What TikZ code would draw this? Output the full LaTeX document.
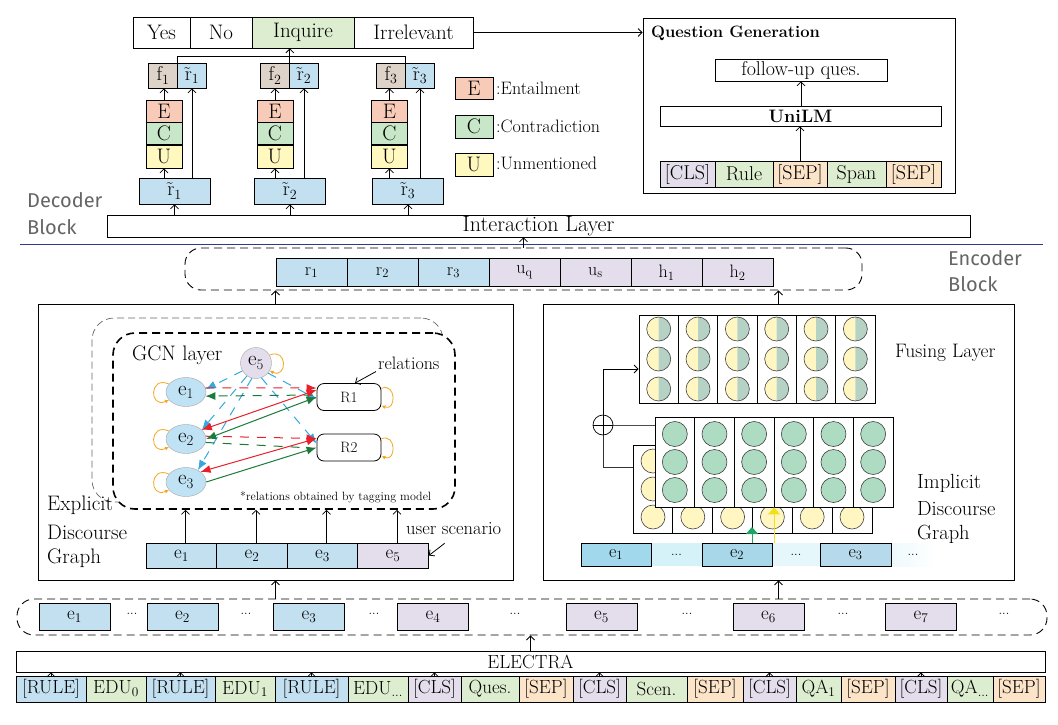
\documentclass[tikz,border=0pt]{standalone}
\usepackage{fontspec}
\setmainfont{Latin Modern Roman}
\newfontfamily\blkfont{Fira Sans}
\usetikzlibrary{arrows.meta,calc,shapes.geometric}
\newcommand{\fsz}[1]{\fontsize{#1}{#1}\selectfont}
\definecolor{cblue}{HTML}{C3E0F1}
\definecolor{clav}{HTML}{E4DEEC}
\definecolor{cgreen}{HTML}{DDEDCF}
\definecolor{corange}{HTML}{FCE4C8}
\definecolor{cE}{HTML}{F8CBB8}
\definecolor{cC}{HTML}{C8E6C8}
\definecolor{cU}{HTML}{FFF8BF}
\definecolor{cf}{HTML}{DDD3C8}
\definecolor{cyel}{HTML}{FFF6C2}
\definecolor{cgg}{HTML}{B6D2C4}
\definecolor{cgc}{HTML}{ADDCC3}
\definecolor{ered}{HTML}{E8202A}
\definecolor{egreen}{HTML}{1C7A3A}
\definecolor{eblue}{HTML}{35A8E0}
\definecolor{eorange}{HTML}{F5A623}
\definecolor{enode}{HTML}{BFE3F4}
\definecolor{sepblue}{HTML}{2E3A87}
\definecolor{blockgray}{HTML}{656565}
\definecolor{iarrg}{HTML}{1DA462}
\definecolor{iarry}{HTML}{F2DF1B}
\definecolor{ie1c}{HTML}{A2D8EB}
\definecolor{ie2c}{HTML}{A9D7EA}
\definecolor{ie3c}{HTML}{B6DAEB}
\definecolor{id1c}{HTML}{D5F2F8}
\definecolor{id2c}{HTML}{E5F7FB}
\definecolor{id3c}{HTML}{EEF9FC}
\begin{document}
\begin{tikzpicture}[x=1pt,y=-1pt,
 cell/.style={draw, line width=0.7pt, inner sep=0pt, font=\fsz{19}},
 arr/.style={line width=0.8pt, -{Straight Barb[length=4pt,width=8pt]}},
 carr/.style={line width=1pt, -{Latex[length=10pt,width=8pt]}},
 cboth/.style={line width=1pt, {Latex[length=10pt,width=8pt]}-{Latex[length=10pt,width=8pt]}},
 edash/.style={dash pattern=on 9pt off 8pt},
 loopc/.style={eorange, line width=0.8pt, -{Latex[length=4pt,width=4pt]}},
 gnode/.style={ellipse, draw=black!35, fill=enode, minimum width=40pt, minimum height=29pt, inner sep=0pt, font=\fsz{21}},
 lbl/.style={inner sep=0pt, anchor=west},
 blk/.style={inner sep=0pt, anchor=west, font=\blkfont\fsz{20}, text=blockgray},
 dots/.style={inner sep=0pt, font=\fsz{13}},
 panel/.style={draw, line width=0.8pt, inner sep=0pt},
]
\useasboundingbox (0,0) rectangle (1058,724);

%% ---------------- Decoder: output classes ----------------
\foreach \nm/\x/\w/\c/\t in {yes/161.5/57/white/Yes, no/221/62/white/No, inq/303/102/cgreen/Inquire, irr/413.5/119/white/Irrelevant}
  \node[cell, fill=\c, minimum width=\w pt, minimum height=31pt, font=\fsz{21}] (\nm) at (\x,32.5) {\t};

%% Question generation
\node[panel, minimum width=312pt, minimum height=175pt] (qg) at (799,105.5) {};
\node[lbl, font=\fsz{16.5}\bfseries] (qgt) at (651,33) {Question Generation};
\draw[arr] (irr.east) -- (irr.east -| qg.west);
\node[cell, minimum width=172pt, minimum height=22pt, font=\fsz{20}] (fq) at (801,70) {follow-up ques.};
\node[cell, minimum width=281pt, minimum height=20pt, font=\fsz{18}\bfseries] (unilm) at (800.5,116) {UniLM};
\foreach \nm/\x/\w/\c/\t in {qc/687.5/55/clav/{[CLS]}, qr/744/58/cgreen/Rule, qs1/800/54/corange/{[SEP]}, qsp/856.5/59/cgreen/Span, qs2/913.5/55/corange/{[SEP]}}
  \node[cell, fill=\c, minimum width=\w pt, minimum height=26pt, font=\fsz{20}] (\nm) at (\x,174) {\t};
\draw[arr] (qs1.north) -- (qs1.north |- unilm.south);
\draw[arr] (unilm.north -| fq.south) -- (fq.south);

%% Legend
\node[cell, fill=cE, minimum width=38pt, minimum height=22pt, font=\fsz{21}] (lE) at (474,88) {E};
\node[cell, fill=cC, minimum width=38pt, minimum height=23pt, font=\fsz{21}] (lC) at (474,126.5) {C};
\node[cell, fill=cU, minimum width=38pt, minimum height=23pt, font=\fsz{21}] (lU) at (474,164.5) {U};
\node[lbl, font=\fsz{18}] (lEt) at (496,88) {:Entailment};
\node[lbl, font=\fsz{18}] (lCt) at (496,126) {:Contradiction};
\node[lbl, font=\fsz{18}] (lUt) at (496,163) {:Unmentioned};

%% Interaction layer
\node[cell, minimum width=863pt, minimum height=22pt, font=\fsz{22}] (inter) at (538.5,226) {Interaction Layer};

%% Decoder columns
\foreach \i/\fx/\ex/\bx in {1/163/164/174.5, 2/275/275/290, 3/391/389.5/408} {
  \node[cell, fill=cf, minimum width=29pt, minimum height=25pt, font=\fsz{20}] (f\i) at (\fx,75.5) {f\textsubscript{\i}};
  \node[cell, fill=cblue, minimum width=29pt, minimum height=25pt, font=\fsz{20}] (rs\i) at (\fx+29,75.5) {\~{r}\textsubscript{\i}};
  \node[cell, fill=cE, minimum width=36pt, minimum height=22pt, font=\fsz{21}] (E\i) at (\ex,111) {E};
  \node[cell, fill=cC, minimum width=36pt, minimum height=22pt, font=\fsz{21}] (C\i) at (\ex,133) {C};
  \node[cell, fill=cU, minimum width=36pt, minimum height=23pt, font=\fsz{21}] (U\i) at (\ex,156.5) {U};
  \node[cell, fill=cblue, minimum width=71pt, minimum height=26pt, font=\fsz{20}] (rb\i) at (\bx,191) {\~{r}\textsubscript{\i}};
  \draw[arr] (E\i.north) -- (E\i.north |- f\i.south);
  \draw[arr] (U\i.south |- rb\i.north) -- (U\i.south);
  \draw[arr] (rs\i.south |- rb\i.north) -- (rs\i.south);
  \draw[arr] (rb\i.south |- inter.north) -- (rb\i.south);
}
\coordinate (jy) at (0,56);
\draw[line width=0.8pt] (f1.north east) -- (f1.north east |- jy) -- (f3.north east |- jy) -- (f3.north east);
\draw[arr] (f2.north east) -- (f2.north east |- inq.south);

%% Block labels and separator
\node[blk] (dec1) at (27,200) {Decoder};
\node[blk] (dec2) at (27,227) {Block};
\node[blk] (enc1) at (948,258) {Encoder};
\node[blk] (enc2) at (948,284) {Block};
\draw[sepblue, line width=0.8pt] (20,244) -- (1043,244);

%% Encoder output row
\node[draw, dash pattern=on 8pt off 5pt, line width=0.9pt, rounded corners=16pt, minimum width=677pt, minimum height=42pt] (rbox) at (523.5,269) {};
\foreach \nm/\x/\c/\t in {rr1/311.5/cblue/{r\textsubscript{1}}, rr2/382.5/cblue/{r\textsubscript{2}}, rr3/453.5/cblue/{r\textsubscript{3}}, uq/524.5/clav/{u\textsubscript{q}}, us/595.5/clav/{u\textsubscript{s}}, hh1/666.5/clav/{h\textsubscript{1}}, hh2/737.5/clav/{h\textsubscript{2}}}
  \node[cell, fill=\c, minimum width=71pt, minimum height=28pt, font=\fsz{18}] (\nm) at (\x,272.5) {\t};
\draw[arr] (rbox.north) -- (rbox.north |- inter.south);

%% Panels
\node[panel, minimum width=475pt, minimum height=276pt] (lp) at (275.5,442) {};
\node[panel, minimum width=471pt, minimum height=276pt] (rp) at (778.5,442) {};
\draw[arr] (lp.north) -- (lp.north |- rbox.south);
\draw[arr] (rp.north) -- (rp.north |- rbox.south);

%% ---------------- Explicit discourse graph ----------------
\node[draw=black!60, dash pattern=on 7pt off 4pt, line width=0.7pt, rounded corners=22pt, minimum width=351pt, minimum height=184pt] (gcnb) at (267.5,410) {};
\node[draw, fill=white, dash pattern=on 8pt off 5pt, line width=1.6pt, rounded corners=22pt, minimum width=342pt, minimum height=176pt] (gcn) at (284,421) {};
\node[lbl, font=\fsz{21}] (gcnt) at (132,355) {GCN layer};
\node[circle, draw=black!35, fill=clav, minimum size=31pt, inner sep=0pt, font=\fsz{21}] (g5) at (256,363) {e\textsubscript{5}};
\node[gnode] (g1) at (186,392) {e\textsubscript{1}};
\node[gnode] (g2) at (186,439) {e\textsubscript{2}};
\node[gnode] (g3) at (186,482) {e\textsubscript{3}};
\node[draw, line width=0.8pt, rounded corners=7pt, minimum width=64pt, minimum height=27pt, inner sep=0pt, font=\fsz{15}] (R1) at (349,397) {R1};
\node[draw, line width=0.8pt, rounded corners=7pt, minimum width=64pt, minimum height=27pt, inner sep=0pt, font=\fsz{15}] (R2) at (349,447.5) {R2};
\node[lbl, font=\fsz{18}] (rel) at (378,363) {relations};
\draw[arr] ([xshift=-2pt,yshift=-2pt]rel.south west) -- ([xshift=6pt]R1.north);
\node[lbl, font=\fsz{12}] (note) at (240,497) {*relations obtained by tagging model};

% self loops
\foreach \g in {g1,g2,g3}
  \draw[loopc] (\g.155) .. controls +(-20pt,9pt) and +(-20pt,-9pt) .. (\g.205);
\draw[loopc] (g5.30) .. controls +(18pt,8pt) and +(18pt,-8pt) .. (g5.-30);
\draw[loopc] (R1.15) .. controls +(15pt,6pt) and +(15pt,-6pt) .. (R1.-15);
\draw[loopc] (R2.15) .. controls +(15pt,6pt) and +(15pt,-6pt) .. (R2.-15);

% blue dashed edges from e5
\draw[eblue, carr, edash] (g5.210) -- (g1.8);
\draw[eblue, carr, edash] (g5.235) -- (g2.30);
\draw[eblue, carr, edash] (g5.255) -- (g3.45);
\draw[eblue, carr, edash] (g5.320) -- ([yshift=-2pt]R1.west);
\draw[eblue, carr, edash] (g5.290) -- ([yshift=4pt]R2.west);
% dashed relation edges
\draw[ered, carr, edash] (g1.12) -- ([yshift=9pt]R1.west);
\draw[egreen, carr, edash] ([xshift=-4pt,yshift=2pt]R1.west) -- (g1.-12);
\draw[ered, carr, edash] (g2.8) -- ([yshift=9pt]R2.west);
\draw[egreen, line width=1pt, edash] (g2.-10) -- ([xshift=-14pt]R2.west);
% solid relation edges
\draw[ered, cboth] (g2.30) -- ([yshift=7pt]R1.west);
\draw[egreen, cboth] (g2.0) -- ([yshift=0pt]R1.west);
\draw[ered, cboth] (g3.35) -- ([yshift=9pt]R2.west);
\draw[egreen, carr] (g3.0) -- ([yshift=0pt]R2.west);

% explicit labels and input row
\node[lbl, font=\fsz{21}] (ex1) at (47,505) {Explicit};
\node[lbl, font=\fsz{21}] (ex2) at (47,532) {Discourse};
\node[lbl, font=\fsz{21}] (ex3) at (47,558) {Graph};
\foreach \nm/\x/\c/\t in {le1/181.5/cblue/{e\textsubscript{1}}, le2/252/cblue/{e\textsubscript{2}}, le3/322.5/cblue/{e\textsubscript{3}}, le5/393/clav/{e\textsubscript{5}}}
  {\node[cell, fill=\c, minimum width=71pt, minimum height=25pt] (\nm) at (\x,555.5) {\t};
   \draw[arr] ([xshift=4pt]\nm.north) -- ([xshift=4pt]\nm.north |- gcn.south);}
\node[lbl, font=\fsz{18.5}] (usc) at (406,529) {user scenario};
\draw[arr] ([xshift=-9pt,yshift=-8pt]usc.south) -- (le5.east);

%% ---------------- Implicit discourse graph ----------------
% back (yellow) layer
\node[panel, fill=white, minimum width=239pt, minimum height=88pt] (ybox) at (752.5,489) {};
\foreach \k in {1,...,5} \draw[line width=0.7pt] (633+39.83*\k,445) -- (633+39.83*\k,533);
\foreach \k in {0,...,5} \foreach \yy in {461,489,517}
  \filldraw[fill=cyel, draw=black!75, line width=0.6pt] (653+39.8*\k,\yy) circle (12pt);
% front (green) layer
\node[panel, fill=white, minimum width=238pt, minimum height=90pt] (gbox) at (774,462) {};
\foreach \k in {1,...,5} \draw[line width=0.7pt] (655+39.67*\k,417) -- (655+39.67*\k,507);
\foreach \k in {0,...,5} \foreach \yy in {434,462,490}
  \filldraw[fill=cgc, draw=black!75, line width=0.6pt] (674.8+39.67*\k,\yy) circle (12.5pt);
% fusing layer
\node[panel, fill=white, minimum width=236pt, minimum height=88pt] (fuse) at (757,359) {};
\foreach \k in {1,...,5} \draw[line width=0.7pt] (639+39.33*\k,315) -- (639+39.33*\k,403);
\foreach \k in {0,...,5} \foreach \yy in {329,359,389} {
  \fill[cyel] (658.7+39.33*\k,\yy) -- ++(0pt,12pt) arc[start angle=90,end angle=270,radius=12pt] -- cycle;
  \fill[cgg] (658.7+39.33*\k,\yy) -- ++(0pt,-12pt) arc[start angle=270,end angle=450,radius=12pt] -- cycle;
  \draw[black!75, line width=0.6pt] (658.7+39.33*\k,\yy) circle (12pt);
}
\node[lbl, font=\fsz{19.5}] (fust) at (895,353) {Fusing Layer};
% residual sum
\node[circle, draw, line width=0.7pt, minimum size=20pt, inner sep=0pt] (oplus) at (603,425) {};
\draw[line width=0.7pt] (oplus.north) -- (oplus.south) (oplus.west) -- (oplus.east);
\draw[arr] (oplus.north) |- ([yshift=-10pt]fuse.west);
\draw[line width=0.7pt, black!70] (oplus.east) -- (oplus.east -| gbox.west);
\draw[line width=0.7pt, black!80] (oplus.south) |- ([yshift=22pt]ybox.west);
\node[lbl, font=\fsz{20.5}] (im1) at (917,483) {Implicit};
\node[lbl, font=\fsz{20.5}] (im2) at (917,509) {Discourse};
\node[lbl, font=\fsz{20.5}] (im3) at (917,534) {Graph};
% input row
\node[inner sep=0pt, fill=id1c, minimum width=51pt, minimum height=23pt, font=\fsz{13}] (id1) at (676.5,554.5) {...};
\node[inner sep=0pt, fill=id2c, minimum width=48pt, minimum height=23pt, font=\fsz{13}] (id2) at (796,554.5) {...};
\node[inner sep=0pt, left color=id3c, right color=white, minimum width=44pt, minimum height=23pt, font=\fsz{13}] (id3) at (913,554.5) {...};
\node[cell, fill=ie1c, minimum width=70pt, minimum height=23pt, font=\fsz{18}] (ie1) at (616,554.5) {e\textsubscript{1}};
\node[cell, fill=ie2c, minimum width=70pt, minimum height=23pt, font=\fsz{18}] (ie2) at (737,554.5) {e\textsubscript{2}};
\node[cell, fill=ie3c, minimum width=71pt, minimum height=23pt, font=\fsz{18}] (ie3) at (855.5,554.5) {e\textsubscript{3}};
\coordinate (gtip) at (0,527);
\draw[iarrg, line width=1pt, -{Triangle[length=7pt,width=12pt]}] ([xshift=15pt]ie2.north) -- ([xshift=15pt]ie2.north |- gtip);
\draw[iarry, line width=1pt, -{Triangle[length=7pt,width=12pt]}] ([xshift=37pt]ie2.north) -- ([xshift=37pt]ie2.north |- gbox.south);

%% ---------------- Encoder bottom ----------------
\node[draw, dash pattern=on 8pt off 5pt, line width=0.9pt, rounded corners=17pt, minimum width=1030pt, minimum height=36pt] (ebox) at (532,617) {};
\foreach \nm/\x/\c/\t in {be1/74.5/cblue/{e\textsubscript{1}}, be2/182.5/cblue/{e\textsubscript{2}}, be3/309/cblue/{e\textsubscript{3}}, be4/433/clav/{e\textsubscript{4}}, be5/601.5/clav/{e\textsubscript{5}}, be6/768.5/clav/{e\textsubscript{6}}, be7/921/clav/{e\textsubscript{7}}}
  \node[cell, fill=\c, minimum width=71pt, minimum height=27pt] (\nm) at (\x,616.5) {\t};
\foreach \nm/\x in {bd1/132, bd2/246, bd3/374, bd4/515, bd5/687, bd6/843, bd7/1004}
  \node[dots] (\nm) at (\x,614) {...};
\draw[arr] (lp.south |- ebox.north) -- (lp.south);
\draw[arr] (rp.south |- ebox.north) -- (rp.south);

\node[cell, minimum width=1029pt, minimum height=21pt, font=\fsz{19}] (el) at (530.5,661.5) {ELECTRA};
\draw[arr] (el.north) -- (el.north |- ebox.south);

\foreach \nm/\x/\w/\c/\t in {tk1/51/70/cblue/{[RULE]}, tk2/116/60/cgreen/{EDU\textsubscript{0}}, tk3/180.5/69/cblue/{[RULE]}, tk4/245/60/cgreen/{EDU\textsubscript{1}}, tk5/311.5/73/cblue/{[RULE]}, tk6/378/60/cgreen/{EDU\textsubscript{...}}, tk7/434.5/53/clav/{[CLS]}, tk8/490/58/cgreen/{Ques.}, tk9/546/54/corange/{[SEP]}, tk10/599.5/53/clav/{[CLS]}, tk11/656.5/61/cgreen/{Scen.}, tk12/715/56/corange/{[SEP]}, tk13/769.5/53/clav/{[CLS]}, tk14/818.5/45/cgreen/{QA\textsubscript{1}}, tk15/868/54/corange/{[SEP]}, tk16/921/52/clav/{[CLS]}, tk17/970/46/cgreen/{QA\textsubscript{...}}, tk18/1019/52/corange/{[SEP]}}
  \node[cell, fill=\c, minimum width=\w pt, minimum height=26pt, font=\fsz{19}] (\nm) at (\x,689) {\t};
\foreach \t in {tk1,tk3,tk5,tk7,tk10,tk13,tk16}
  \draw[arr] (\t.north) -- (\t.north |- el.south);
\end{tikzpicture}
\end{document}
